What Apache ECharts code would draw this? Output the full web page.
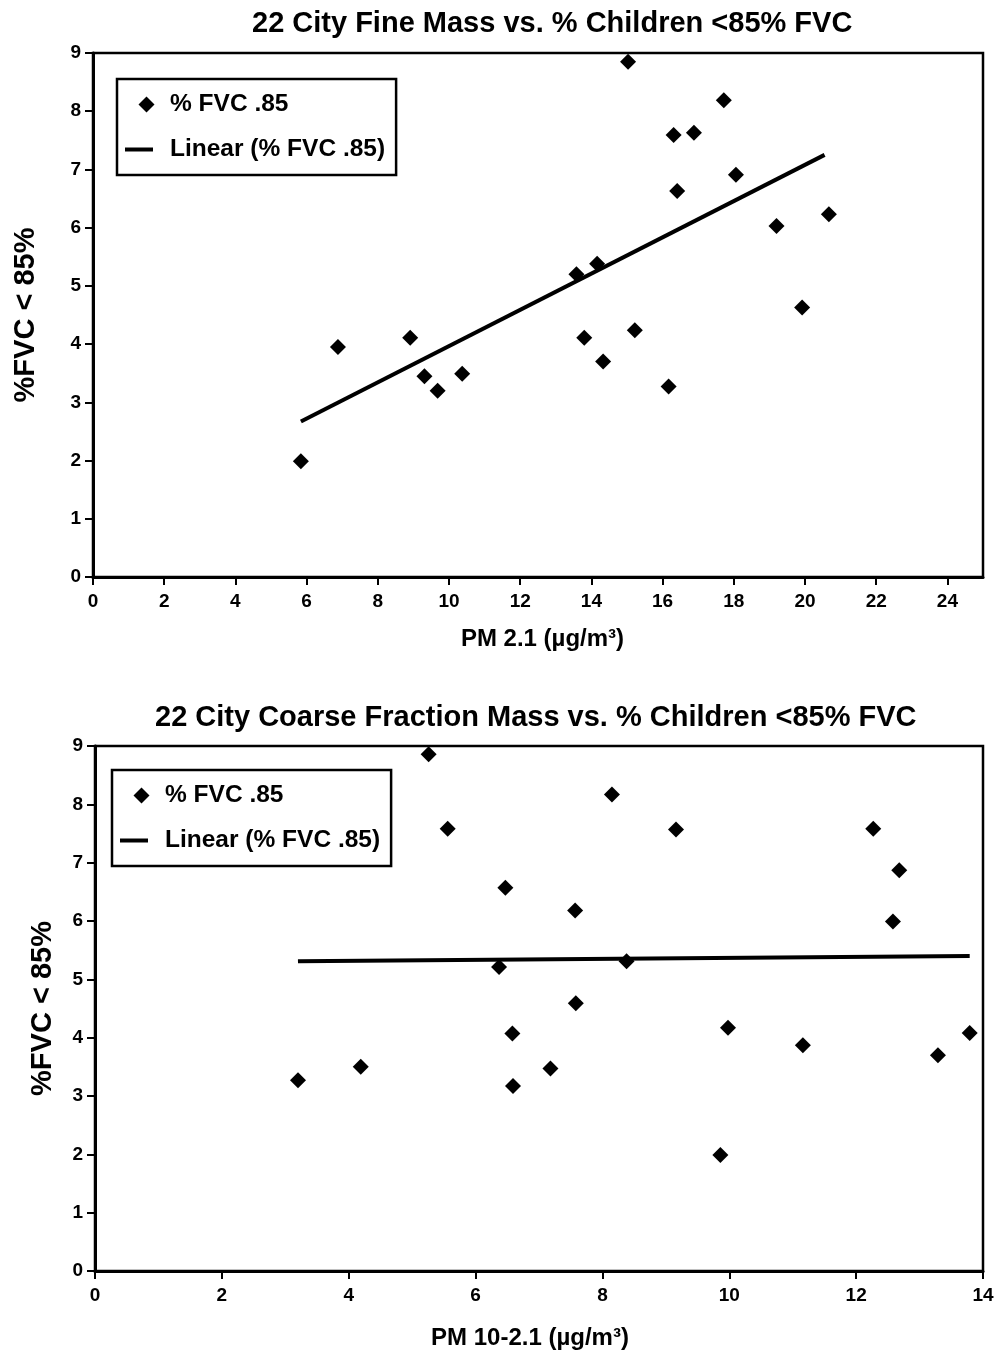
<!DOCTYPE html>
<html>
<head>
<meta charset="utf-8">
<script src="https://cdn.jsdelivr.net/npm/echarts@6/dist/echarts.min.js"></script>
<style>
  html, body { margin: 0; padding: 0; background: #fff; }
  #chart { width: 999px; height: 1354px; }
</style>
</head>
<body>
<div id="chart"></div>
<script>
// 细颗粒物 (PM 2.1) 图
var fineX = [5.84, 6.88, 8.91, 9.31, 9.68, 10.37, 13.58, 14.16, 13.80, 14.33, 15.22, 16.17, 19.92, 15.03, 17.72, 16.31, 16.88, 18.06, 16.41, 20.67, 19.20];
var fineY = [1.99, 3.95, 4.11, 3.45, 3.20, 3.49, 5.20, 5.38, 4.11, 3.70, 4.24, 3.27, 4.63, 8.85, 8.19, 7.59, 7.63, 6.91, 6.63, 6.23, 6.03];
var fineTrendX = [5.84, 20.55];
var fineTrendY = [2.67, 7.25];
var fineTicks = [0, 2, 4, 6, 8, 10, 12, 14, 16, 18, 20, 22, 24];

// 粗颗粒物 (PM 10-2.1) 图
var coarseX = [5.26, 5.56, 8.15, 9.16, 6.47, 7.57, 6.37, 8.38, 7.58, 6.58, 6.59, 7.18, 3.20, 4.19, 12.27, 12.68, 12.58, 9.98, 11.16, 13.29, 13.79, 9.86];
var coarseY = [8.86, 7.58, 8.17, 7.57, 6.57, 6.18, 5.21, 5.31, 4.59, 4.07, 3.17, 3.47, 3.27, 3.50, 7.58, 6.87, 5.99, 4.17, 3.87, 3.70, 4.08, 1.99];
var coarseTrendX = [3.20, 13.79];
var coarseTrendY = [5.31, 5.40];
var coarseTicks = [0, 2, 4, 6, 8, 10, 12, 14];

var yTicks = [0, 1, 2, 3, 4, 5, 6, 7, 8, 9];

var FONT = '"Liberation Sans", Arial, sans-serif';
var pointName = '% FVC .85';
var lineName = 'Linear (% FVC .85)';

// 图例图标 (40x16 框, 保持比例)
var diamondIcon = 'path://M0,0 L0,0 M40,16 L40,16 M21.5,0 L29.5,8 L21.5,16 L13.5,8 Z';
var lineIcon = 'path://M0,0 L0,0 M40,16 L40,16 M0,6 L28,6 L28,10 L0,10 Z';

function zip(xs, ys) {
  return xs.map(function (x, i) { return [x, ys[i]]; });
}

function xAxisCfg(gridIndex, max, ticks, name, nameGap, namePad) {
  return {
    gridIndex: gridIndex,
    type: 'value',
    min: 0,
    max: max,
    name: name,
    nameLocation: 'middle',
    nameGap: nameGap,
    nameTextStyle: { fontFamily: FONT, fontSize: 24, fontWeight: 'bold', color: '#000', padding: namePad },
    axisLine: { show: true, onZero: false, lineStyle: { color: '#000', width: 3 } },
    axisTick: { show: true, length: 8, customValues: ticks, lineStyle: { color: '#000', width: 2 } },
    axisLabel: { customValues: ticks, margin: 15, fontFamily: FONT, fontSize: 19, fontWeight: 'bold', color: '#000' },
    splitLine: { show: false }
  };
}

function yAxisCfg(gridIndex, nameGap) {
  return {
    gridIndex: gridIndex,
    type: 'value',
    min: 0,
    max: 9,
    name: '%FVC < 85%',
    nameLocation: 'middle',
    nameGap: nameGap,
    nameTextStyle: { fontFamily: FONT, fontSize: 29, fontWeight: 'bold', color: '#000' },
    axisLine: { show: true, onZero: false, lineStyle: { color: '#000', width: 3 } },
    axisTick: { show: true, length: 8, customValues: yTicks, lineStyle: { color: '#000', width: 2 } },
    axisLabel: { customValues: yTicks, margin: 12, fontFamily: FONT, fontSize: 19, fontWeight: 'bold', color: '#000' },
    splitLine: { show: false }
  };
}

function legendCfg(left, top) {
  return {
    left: left,
    top: top,
    orient: 'vertical',
    padding: [13, 11, 13, 8],
    itemGap: 20,
    itemWidth: 40,
    itemHeight: 16,
    borderColor: '#000',
    borderWidth: 2.5,
    selectedMode: false,
    itemStyle: { borderWidth: 0, opacity: 1 },
    textStyle: { fontFamily: FONT, fontSize: 24.5, fontWeight: 'bold', color: '#000' },
    data: [
      { name: pointName, icon: diamondIcon },
      { name: lineName, icon: lineIcon }
    ]
  };
}

var myChart = echarts.init(document.getElementById('chart'));
myChart.setOption({
  backgroundColor: '#fff',
  animation: false,
  title: [
    {
      text: '22 City Fine Mass vs. % Children <85% FVC',
      left: 252, top: 9, padding: 0,
      textStyle: { fontFamily: FONT, fontSize: 29, fontWeight: 'bold', color: '#000' }
    },
    {
      text: '22 City Coarse Fraction Mass vs. % Children <85% FVC',
      left: 155, top: 703, padding: 0,
      textStyle: { fontFamily: FONT, fontSize: 29, fontWeight: 'bold', color: '#000' }
    }
  ],
  legend: [legendCfg(117, 79), legendCfg(112, 770)],
  grid: [
    { left: 93, top: 53, width: 890, height: 524, show: true, borderColor: '#000', borderWidth: 2.5, outerBoundsMode: 'none' },
    { left: 95, top: 746, width: 888, height: 525, show: true, borderColor: '#000', borderWidth: 2.5, outerBoundsMode: 'none' }
  ],
  xAxis: [
    xAxisCfg(0, 25, fineTicks, 'PM 2.1 (µg/m³)', 50, [0, 0, 0, 9]),
    xAxisCfg(1, 14, coarseTicks, 'PM 10-2.1 (µg/m³)', 55, [0, 18, 0, 0])
  ],
  yAxis: [yAxisCfg(0, 53), yAxisCfg(1, 38)],
  series: [
    {
      name: pointName, type: 'scatter', xAxisIndex: 0, yAxisIndex: 0,
      symbol: 'diamond', symbolSize: 16,
      itemStyle: { color: '#000', opacity: 1 },
      data: zip(fineX, fineY)
    },
    {
      name: lineName, type: 'line', xAxisIndex: 0, yAxisIndex: 0,
      showSymbol: false, symbol: 'none',
      lineStyle: { color: '#000', width: 4 },
      itemStyle: { color: '#000' },
      data: zip(fineTrendX, fineTrendY)
    },
    {
      name: pointName, type: 'scatter', xAxisIndex: 1, yAxisIndex: 1,
      symbol: 'diamond', symbolSize: 16,
      itemStyle: { color: '#000', opacity: 1 },
      data: zip(coarseX, coarseY)
    },
    {
      name: lineName, type: 'line', xAxisIndex: 1, yAxisIndex: 1,
      showSymbol: false, symbol: 'none',
      lineStyle: { color: '#000', width: 4 },
      itemStyle: { color: '#000' },
      data: zip(coarseTrendX, coarseTrendY)
    }
  ]
});
</script>
</body>
</html>
